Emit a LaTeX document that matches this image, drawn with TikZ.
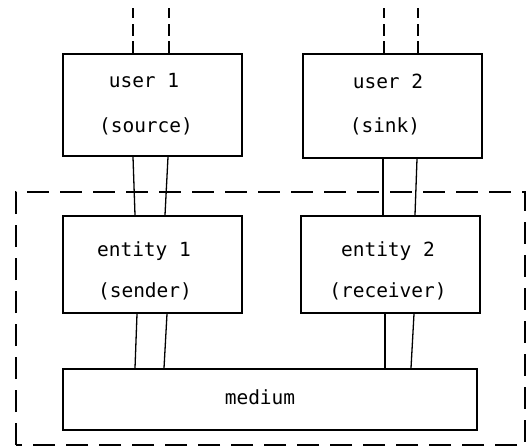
\documentclass[tikz,border=0pt]{standalone}
\usepackage{fontspec}
\setmonofont{DejaVu Sans Mono}
\begin{document}
\begin{tikzpicture}[x=1pt,y=-1pt,
  box/.style={draw, line width=1.8pt, inner sep=0pt},
  lbl/.style={font=\ttfamily\fontsize{19.5}{23}\selectfont, inner sep=0pt, anchor=center},
  wire/.style={line width=1.3pt},
  port/.style={line width=1.5pt, dash pattern=on 10pt off 6pt on 12pt off 5pt on 30pt},
  frame/.style={line width=1.3pt, dash pattern=on 22pt off 11pt}]
\useasboundingbox (0,0) rectangle (528,447);

% layer boxes
\node[box, minimum width=179pt, minimum height=102pt] (user1) at (152.5,105) {};
\node[box, minimum width=179pt, minimum height=104pt] (user2) at (392.5,106) {};
\node[box, minimum width=179pt, minimum height=97pt] (ent1) at (152.5,264.5) {};
\node[box, minimum width=179pt, minimum height=97pt] (ent2) at (390.5,264.5) {};
\node[box, minimum width=414pt, minimum height=61pt] (med) at (270,399.5) {};

% labels
\node[lbl] (u1a) at (144,81) {user 1};
\node[lbl] (u1b) at (146,126) {(source)};
\node[lbl] (u2a) at (388,81) {user 2};
\node[lbl] (u2b) at (385,126) {(sink)};
\node[lbl] (e1a) at (144,251) {entity 1};
\node[lbl] (e1b) at (145,291) {(sender)};
\node[lbl] (e2a) at (388,251) {entity 2};
\node[lbl] (e2b) at (388,291) {(receiver)};
\node[lbl] (mla) at (260,397) {medium};

% interfaces above the users
\coordinate (t1) at (133,8);
\coordinate (t2) at (169,8);
\coordinate (t3) at (384,8);
\coordinate (t4) at (418,8);
\draw[port] (t1) -- (t1 |- user1.north);
\draw[port] (t2) -- (t2 |- user1.north);
\draw[port] (t3) -- (t3 |- user2.north);
\draw[port] (t4) -- (t4 |- user2.north);

% user -- entity interfaces
\draw[wire] (133,0 |- user1.south) -- (135,0 |- ent1.north);
\draw[wire] (168,0 |- user1.south) -- (165,0 |- ent1.north);
\draw[wire] (383,0 |- user2.south) -- (383,0 |- ent2.north);
\draw[wire] (417,0 |- user2.south) -- (415,0 |- ent2.north);

% entity -- medium interfaces
\draw[wire] (137,0 |- ent1.south) -- (135,0 |- med.north);
\draw[wire] (167,0 |- ent1.south) -- (164,0 |- med.north);
\draw[wire] (385,0 |- ent2.south) -- (385,0 |- med.north);
\draw[wire] (414,0 |- ent2.south) -- (411,0 |- med.north);

% protocol boundary
\draw[frame] (16,445) -- (16,192) -- (525,192) -- (525,445) -- cycle;
\end{tikzpicture}
\end{document}
